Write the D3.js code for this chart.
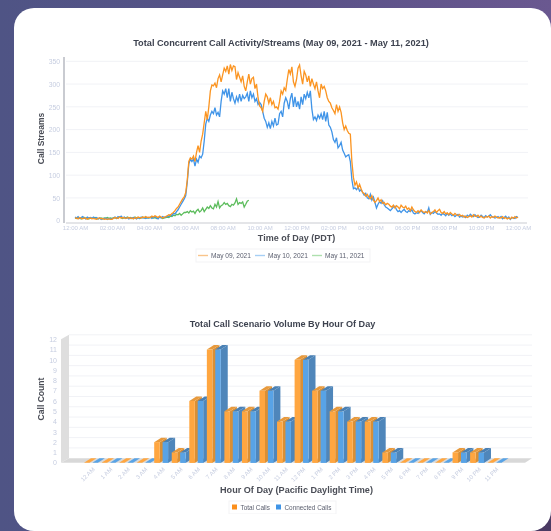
<!DOCTYPE html>
<html>
<head>
<meta charset="utf-8">
<script src="https://cdn.jsdelivr.net/npm/d3@7"></script>
<style>
    html, body { margin: 0; padding: 0; width: 551px; height: 531px; overflow: hidden; }
    body { background: linear-gradient(90deg, #4f5485 0%, #5a5288 55%, #6a5890 100%); }
    svg { display: block; font-family: "Liberation Sans", sans-serif; }
</style>
</head>
<body>
<svg id="page" width="551" height="531"></svg>
<script>
// Top chart: one value every 5 minutes
const may09 = [
    5, 6, 4, 7, 5, 4, 6, 5, 3, 5, 6, 4,
    5, 4, 3, 5, 6, 4, 5, 3, 4, 3, 4, 3,
    3, 5, 7, 6, 5, 8, 6, 7, 6, 5, 6, 7,
    5, 6, 4, 7, 5, 8, 7, 6, 8, 7, 9, 7,
    8, 7, 10, 8, 11, 9, 7, 10, 8, 6, 8, 9,
    11, 13, 12, 16, 18, 22, 27, 30, 36, 42, 48, 52,
    62, 90, 130, 138, 135, 142, 130, 150, 165, 150, 175, 190,
    215, 240, 222, 250, 285, 298, 296, 302, 292, 312, 320, 305,
    320, 335, 328, 340, 322, 343, 330, 340, 338, 310, 325, 315,
    305, 318, 295, 285, 305, 322, 300, 312, 315, 290, 300, 270,
    252, 248, 240, 262, 278, 272, 258, 270, 255, 262, 248, 250,
    245, 262, 285, 278, 292, 286, 310, 332, 322, 338, 305, 295,
    310, 335, 342, 318, 300, 328, 320, 305, 318, 295, 312, 300,
    290, 305, 285, 270, 300, 290, 295, 285, 270, 262, 258, 248,
    242, 235, 255, 240, 250, 238, 215, 200, 208, 198, 192, 190,
    130, 95, 78, 85, 72, 80, 70, 62, 60, 54, 58, 52,
    48, 55, 45, 40, 44, 50, 42, 46, 38, 40, 35, 38,
    36, 32, 30, 34, 28, 33, 30, 26, 34, 30, 28, 32,
    25, 28, 22, 30, 24, 20, 18, 22, 18, 24, 20, 18,
    20, 17, 22, 15, 18, 20, 24, 18, 22, 25, 18, 16,
    20, 15, 17, 13, 18, 15, 12, 16, 13, 11, 14, 10,
    12, 8, 10, 7, 9, 11, 8, 13, 10, 9, 12, 8,
    10, 7, 6, 9, 8, 10, 6, 9, 7, 10, 8, 6,
    7, 6, 9, 5, 7, 4, 6, 4, 8, 5, 9, 6, 8
];
const may10 = [
    8, 6, 9, 5, 7, 9, 6, 4, 8, 6, 7, 5,
    8, 5, 7, 4, 6, 3, 5, 4, 6, 3, 5, 4,
    4, 6, 8, 5, 9, 7, 10, 6, 8, 5, 7, 4,
    6, 5, 7, 6, 4, 7, 5, 8, 6, 7, 5, 7,
    6, 8, 5, 7, 9, 6, 4, 8, 6, 9, 7, 8,
    10, 9, 13, 11, 16, 15, 20, 24, 30, 36, 42, 48,
    55, 85, 125, 135, 130, 135, 120, 135, 128, 142, 138, 146,
    175, 212, 225, 218, 232, 240, 235, 248, 232, 238, 228, 262,
    285, 278, 290, 270, 290, 262, 282, 268, 258, 272, 262, 278,
    262, 275, 268, 272, 280, 262, 285, 270, 278, 262, 268, 255,
    260, 255, 240, 225, 218, 205, 215, 202, 218, 208, 225, 210,
    212, 235, 240, 228, 258, 270, 262, 245, 268, 280, 250, 272,
    250, 262, 245, 272, 255, 278, 268, 282, 270, 285, 245, 222,
    228, 220, 232, 225, 235, 222, 240, 218, 238, 210, 205, 195,
    178, 172, 182, 160, 165, 172, 155, 148, 140, 143, 145, 130,
    90, 70, 72, 68, 74, 65, 68, 62, 56, 60, 50, 48,
    58, 45, 52, 40, 28, 36, 42, 38, 44, 35, 30, 28,
    25, 22, 26, 30, 32, 24, 20, 22, 18, 22, 25, 20,
    18, 22, 20, 24, 17, 15, 18, 16, 20, 22, 18, 15,
    20, 18, 28, 14, 18, 16, 20, 17, 14, 15, 12, 16,
    14, 11, 16, 12, 15, 11, 13, 9, 12, 14, 8, 10,
    8, 10, 7, 12, 9, 14, 11, 9, 13, 10, 7, 8,
    12, 9, 7, 11, 8, 10, 13, 9, 8, 6, 7, 9,
    6, 9, 4, 7, 10, 5, 8, 3, 7, 6, 5, 9, 7
];
const may11 = [
    6, 5, 7, 6, 4, 6, 7, 5, 6, 4, 6, 5,
    5, 7, 6, 4, 5, 6, 4, 6, 5, 7, 5, 6,
    5, 6, 7, 5, 6, 8, 6, 5, 7, 6, 8, 6,
    7, 5, 6, 8, 6, 7, 5, 6, 8, 6, 7, 6,
    6, 7, 8, 6, 7, 5, 6, 8, 7, 5, 6, 7,
    8, 7, 10, 9, 12, 11, 14, 13, 16, 12, 15, 18,
    18, 20, 17, 22, 19, 21, 16, 22, 25, 19, 22, 28,
    20, 25, 30, 27, 33, 28, 26, 36, 30, 42, 28, 33,
    35, 40, 36, 38, 33, 31, 36, 34, 39, 48, 36, 40,
    38, 41, 30, 36, 43, 45
];
const hourTicks = [0, 2, 4, 6, 8, 10, 12, 14, 16, 18, 20, 22, 24];
const hourTickLabels = ['12:00 AM', '02:00 AM', '04:00 AM', '06:00 AM', '08:00 AM', '10:00 AM', '12:00 PM',
    '02:00 PM', '04:00 PM', '06:00 PM', '08:00 PM', '10:00 PM', '12:00 AM'];
const streamTicks = [0, 50, 100, 150, 200, 250, 300, 350];

// Bottom chart
const hourNames = ['12 AM', '1 AM', '2 AM', '3 AM', '4 AM', '5 AM', '6 AM', '7 AM', '8 AM', '9 AM', '10 AM', '11 AM',
    '12 PM', '1 PM', '2 PM', '3 PM', '4 PM', '5 PM', '6 PM', '7 PM', '8 PM', '9 PM', '10 PM', '11 PM'];
const totalCalls = [0, 0, 0, 0, 2, 1, 6, 11, 5, 5, 7, 4, 10, 7, 5, 4, 4, 1, 0, 0, 0, 1, 1, 0];
const connectedCalls = [0, 0, 0, 0, 2, 1, 6, 11, 5, 5, 7, 4, 10, 7, 5, 4, 4, 1, 0, 0, 0, 1, 1, 0];
const countTicks = [0, 1, 2, 3, 4, 5, 6, 7, 8, 9, 10, 11, 12];

const tickColor = '#c6cde0';
const titleColor = '#3e4350';
const axisTitleColor = '#4b4e57';

const svg = d3.select('#page');

// Blur, the reference is a soft screenshot
const defs = svg.append('defs');
defs.append('filter').attr('id', 'soft')
    .attr('x', 0).attr('y', 0).attr('width', 1).attr('height', 1)
    .append('feGaussianBlur').attr('stdDeviation', 0.6);

// Darker bottom right corner behind the card
svg.append('rect').attr('x', 510).attr('y', 490).attr('width', 41).attr('height', 41).attr('fill', '#4a3a63');

// White card
svg.append('rect')
    .attr('x', 14).attr('y', 8)
    .attr('width', 537).attr('height', 523)
    .attr('rx', 20)
    .attr('fill', '#fff');

const root = svg.append('g').attr('filter', 'url(#soft)');

function drawTitle(text, x, y, size, color, rotate) {
    const t = root.append('text')
        .attr('text-anchor', 'middle')
        .attr('font-weight', 'bold')
        .attr('font-size', size)
        .attr('fill', color)
        .text(text);
    if (rotate) {
        t.attr('transform', `translate(${x},${y}) rotate(-90)`);
    } else {
        t.attr('x', x).attr('y', y);
    }
}

function drawLineChart() {
    const x = d3.scaleLinear().domain([0, 24]).range([75, 518]);
    const y = d3.scaleLinear().domain([0, 350]).range([220.7, 61.3]);

    // Grid
    root.append('g')
        .selectAll('line')
        .data(streamTicks.slice(1))
        .join('line')
        .attr('x1', 66).attr('x2', 528)
        .attr('y1', d => y(d)).attr('y2', d => y(d))
        .attr('stroke', '#f1f2f6');

    // Y axis
    const yAxis = root.append('g')
        .attr('transform', 'translate(64,0)')
        .call(d3.axisLeft(y).tickValues(streamTicks).tickSize(0).tickPadding(4));
    yAxis.select('.domain').remove();
    yAxis.selectAll('text').attr('fill', tickColor).attr('font-size', 6.8).attr('font-family', null);
    root.append('rect').attr('x', 63).attr('y', 57).attr('width', 2).attr('height', 166).attr('fill', '#c9cbd1');

    // X axis
    const xAxis = root.append('g')
        .attr('transform', 'translate(0,223)')
        .call(d3.axisBottom(x).tickValues(hourTicks).tickSize(0).tickPadding(3)
            .tickFormat((d, i) => hourTickLabels[i]));
    xAxis.select('.domain').remove();
    xAxis.selectAll('text').attr('fill', tickColor).attr('font-size', 6).attr('font-family', null);
    root.append('line').attr('x1', 66).attr('x2', 527).attr('y1', 223).attr('y2', 223).attr('stroke', '#c9cbd1');

    // Lines
    const line = d3.line().x((d, i) => x(i / 12)).y(d => y(d));
    const series = [
        { values: may11, color: '#5cbc5c' },
        { values: may10, color: '#3f94e8' },
        { values: may09, color: '#fb9420' }
    ];
    root.append('g')
        .selectAll('path')
        .data(series)
        .join('path')
        .attr('d', d => line(d.values))
        .attr('fill', 'none')
        .attr('stroke', d => d.color)
        .attr('stroke-width', 1.3);

    drawTitle('Total Concurrent Call Activity/Streams (May 09, 2021 - May 11, 2021)', 281, 46, 9.2, titleColor);
    drawTitle('Time of Day (PDT)', 296.5, 241, 9, axisTitleColor);
    drawTitle('Call Streams', 44, 138.5, 8.5, axisTitleColor, true);

    // Legend
    const legend = root.append('g').attr('transform', 'translate(196,249)');
    legend.append('rect').attr('width', 174).attr('height', 13).attr('fill', '#fff').attr('stroke', '#f3f3f5');
    const items = [
        { name: 'May 09, 2021', color: '#f9c48a', at: 2 },
        { name: 'May 10, 2021', color: '#a6cff5', at: 59 },
        { name: 'May 11, 2021', color: '#aee0ae', at: 116 }
    ];
    items.forEach(item => {
        legend.append('line').attr('x1', item.at).attr('x2', item.at + 10).attr('y1', 6.5).attr('y2', 6.5)
            .attr('stroke', item.color).attr('stroke-width', 1.4);
        legend.append('text').attr('x', item.at + 13).attr('y', 9).attr('font-size', 6.6).attr('fill', '#5a5e6e').text(item.name);
    });
}

function drawBarChart() {
    const depthX = 7;
    const depthY = -4.5;

    const x0 = d3.scaleBand().domain(hourNames).range([80.3, 501.5]);
    const x1 = d3.scaleBand().domain(['total', 'connected']).range([3.7, 17.6]).paddingInner(0.345);
    const y = d3.scaleLinear().domain([0, 12]).range([462.7, 339.3]);

    const wallLeft = 61;
    const floorRight = 525;

    // Grid on the back wall
    root.append('g')
        .selectAll('line')
        .data(countTicks.slice(1))
        .join('line')
        .attr('x1', wallLeft + depthX + 1).attr('x2', floorRight + depthX)
        .attr('y1', d => y(d) + depthY).attr('y2', d => y(d) + depthY)
        .attr('stroke', '#f1f2f6');

    // Left wall and floor
    const poly = pts => pts.map(p => p.join(',')).join(' ');
    root.append('polygon')
        .attr('points', poly([[wallLeft, y(12)], [wallLeft + depthX + 1, y(12) + depthY], [wallLeft + depthX + 1, y(0) + depthY], [wallLeft, y(0)]]))
        .attr('fill', '#dedede');
    root.append('polygon')
        .attr('points', poly([[wallLeft, y(0)], [wallLeft + depthX + 1, y(0) + depthY], [floorRight + depthX, y(0) + depthY], [floorRight, y(0)]]))
        .attr('fill', '#d8d8d8');

    // Y axis
    const yAxis = root.append('g')
        .attr('transform', `translate(${wallLeft},0)`)
        .call(d3.axisLeft(y).tickValues(countTicks).tickSize(0).tickPadding(4));
    yAxis.select('.domain').remove();
    yAxis.selectAll('text').attr('fill', tickColor).attr('font-size', 7).attr('font-family', null);

    // X axis
    const xAxis = root.append('g')
        .attr('transform', `translate(0,${y(0)})`)
        .call(d3.axisBottom(x0).tickSize(0).tickFormat(d => d));
    xAxis.select('.domain').remove();
    xAxis.selectAll('text')
        .attr('fill', tickColor)
        .attr('font-size', 6)
        .attr('font-family', null)
        .attr('text-anchor', 'end')
        .attr('dy', 0)
        .attr('transform', 'translate(4,5) rotate(-45)');

    // 3D bars
    const styles = {
        total: { front: '#ffa63f', side: '#d98f36', top: '#e8993a' },
        connected: { front: '#58a3e6', side: '#4f86ba', top: '#4a80b4' }
    };
    const barData = [];
    hourNames.forEach((name, i) => {
        barData.push({ name, key: 'total', value: totalCalls[i] });
        barData.push({ name, key: 'connected', value: connectedCalls[i] });
    });
    const bars = root.append('g');
    const w = x1.bandwidth();
    barData.forEach(d => {
        const left = x0(d.name) + x1(d.key);
        const top = y(d.value);
        const base = y(0);
        const s = styles[d.key];
        // bottom face shows through on the floor
        bars.append('polygon')
            .attr('points', poly([[left, base], [left + w, base], [left + w + depthX, base + depthY], [left + depthX, base + depthY]]))
            .attr('fill', s.front);
        if (d.value === 0) return;
        bars.append('polygon')
            .attr('points', poly([[left + w, top], [left + w + depthX, top + depthY], [left + w + depthX, base + depthY], [left + w, base]]))
            .attr('fill', s.side);
        bars.append('polygon')
            .attr('points', poly([[left, top], [left + w, top], [left + w + depthX, top + depthY], [left + depthX, top + depthY]]))
            .attr('fill', s.top);
        bars.append('rect')
            .attr('x', left).attr('y', top)
            .attr('width', w).attr('height', base - top)
            .attr('fill', s.front);
    });

    drawTitle('Total Call Scenario Volume By Hour Of Day', 282.5, 327, 9.1, titleColor);
    drawTitle('Hour Of Day (Pacific Daylight Time)', 296.5, 493, 9.1, axisTitleColor);
    drawTitle('Call Count', 44, 399, 8.6, axisTitleColor, true);

    // Legend
    const legend = root.append('g').attr('transform', 'translate(229,501)');
    legend.append('rect').attr('width', 107).attr('height', 13).attr('fill', '#fff').attr('stroke', '#f3f3f5');
    const items = [
        { name: 'Total Calls', color: '#fb8f1e', at: 3 },
        { name: 'Connected Calls', color: '#3f94e6', at: 47 }
    ];
    items.forEach(item => {
        legend.append('rect').attr('x', item.at).attr('y', 3.5).attr('width', 5).attr('height', 5).attr('fill', item.color);
        legend.append('text').attr('x', item.at + 8.5).attr('y', 9).attr('font-size', 6.4).attr('fill', '#5a5e6e').text(item.name);
    });
}

drawLineChart();
drawBarChart();
</script>
</body>
</html>
